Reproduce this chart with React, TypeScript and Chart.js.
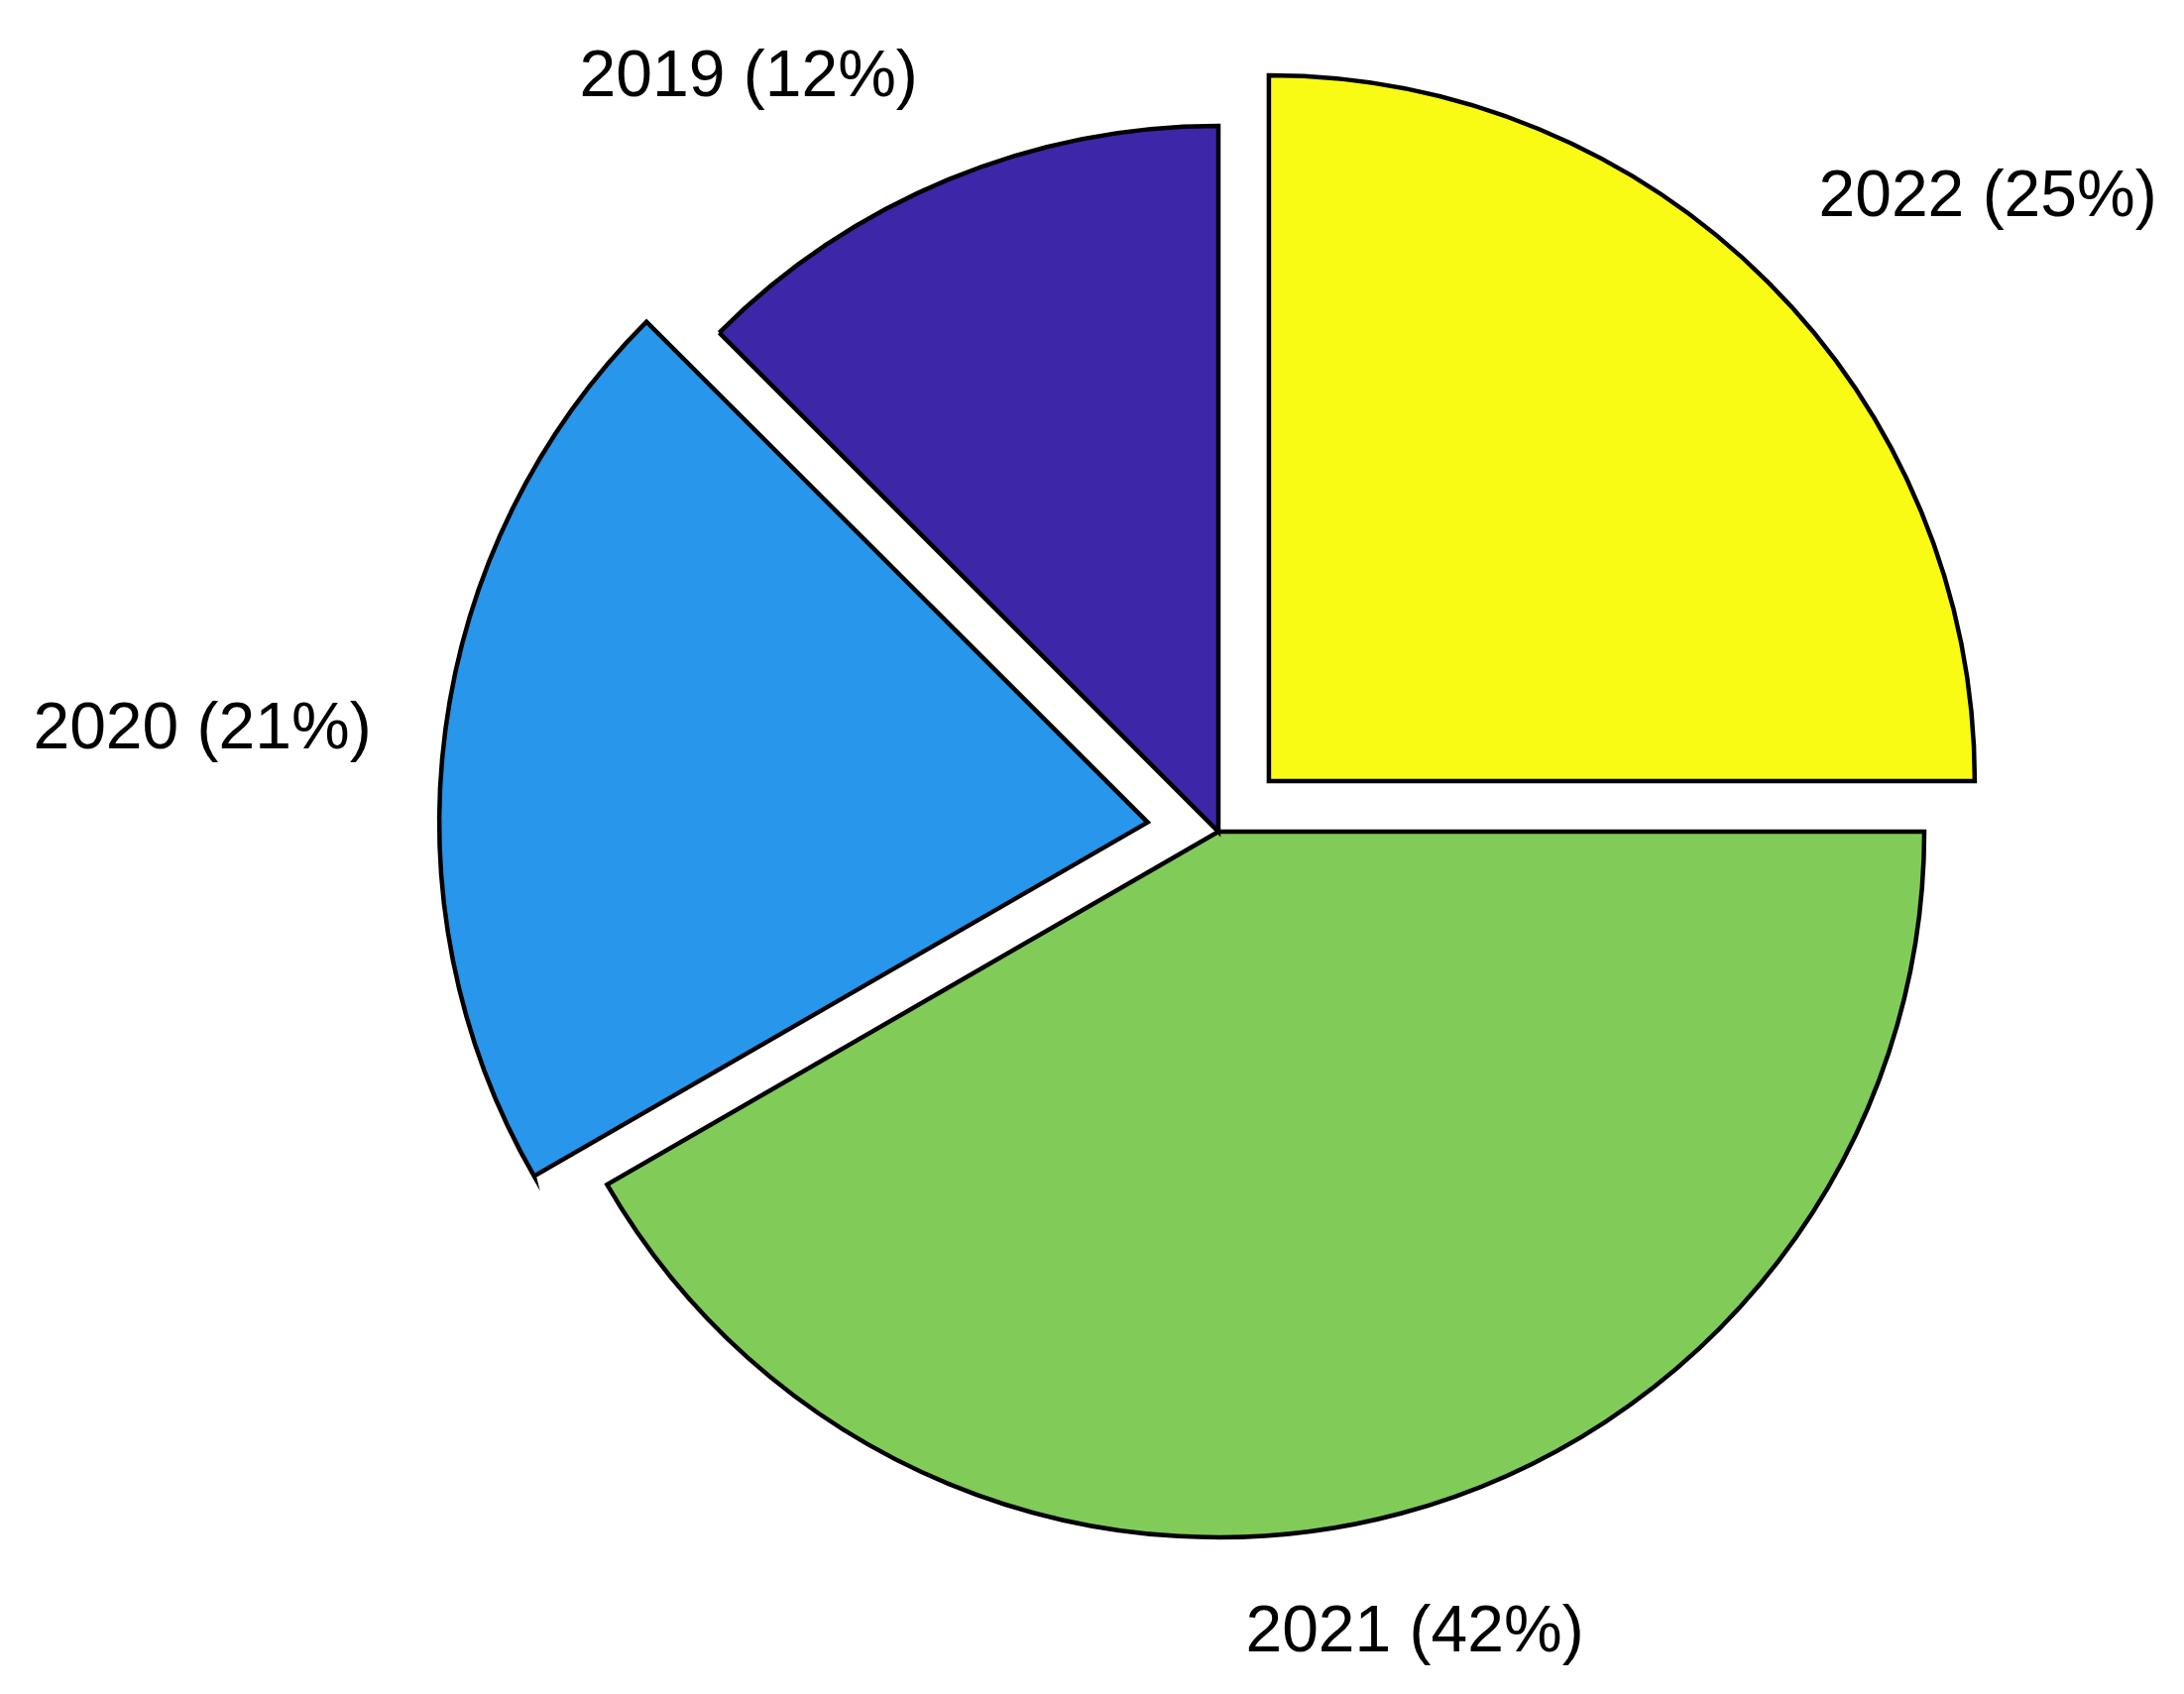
import React, { useEffect, useRef } from "react";
import { Chart, registerables } from "chart.js";

Chart.register(...registerables);

// ---- data ----
const categories = ["2019", "2020", "2021", "2022"];
// slice sizes: 45°, 75°, 150°, 90°
const values = [3, 5, 10, 6];
// percentages as printed in the labels
const percentLabels = ["12%", "21%", "42%", "25%"];
const exploded = [false, true, false, true];

// ---- styles ----
const sliceColors = ["#3E26A8", "#2796EB", "#81CC59", "#F9FB15"];
// label alignment (horizontal align, nudges in em units)
const labelAlign = ["right", "right", "center", "left"];
const labelDxEm = [0.36, -0.11, -0.35, 0.02];
const labelDyEm = [0.72, 0.42, 0.02, -0.26];

const W = 2203;
const H = 1709;
const RADIUS = 712;
const EXPLODE_PX = 72;
const FONT_PX = 66;

// Chart.js draws clockwise from top; the reference goes counter-clockwise,
// so feed the slices in reverse order.
const order = categories.map((_, i) => categories.length - 1 - i);

const pieLabels = {
  id: "pieLabels",
  afterDatasetsDraw(chart: any) {
    const ctx = chart.ctx;
    const meta = chart.getDatasetMeta(0);
    ctx.save();
    ctx.fillStyle = "#000000";
    ctx.font = `${FONT_PX}px "Liberation Sans", Arial, sans-serif`;
    ctx.textBaseline = "alphabetic";
    meta.data.forEach((arc: any, j: number) => {
      const i = order[j];
      const p = arc.getProps(["x", "y", "startAngle", "endAngle", "outerRadius"], true);
      const mid = (p.startAngle + p.endAngle) / 2;
      const r = p.outerRadius * 1.2;
      const ax = p.x + Math.cos(mid) * r + labelDxEm[i] * FONT_PX;
      const ay = p.y + Math.sin(mid) * r + labelDyEm[i] * FONT_PX;
      ctx.textAlign = labelAlign[i];
      ctx.fillText(`${categories[i]} (${percentLabels[i]})`, ax, ay);
    });
    ctx.restore();
  },
};

export default function App() {
  const ref = useRef<HTMLCanvasElement | null>(null);

  useEffect(() => {
    if (!ref.current) return;
    const chart = new Chart(ref.current, {
      type: "pie",
      data: {
        labels: order.map((i) => categories[i]),
        datasets: [
          {
            data: order.map((i) => values[i]),
            backgroundColor: order.map((i) => sliceColors[i]),
            borderColor: "#000000",
            borderWidth: 4.5,
            borderJoinStyle: "miter",
            // Chart.js translates an arc by offset / 4
            offset: order.map((i) => (exploded[i] ? EXPLODE_PX * 4 : 0)),
            hoverOffset: 0,
          } as any,
        ],
      },
      options: {
        responsive: false,
        animation: false,
        events: [],
        radius: RADIUS,
        rotation: 0,
        layout: { padding: { left: 255, right: 0, top: 0, bottom: 31 } },
        plugins: {
          legend: { display: false },
          tooltip: { enabled: false },
        },
      } as any,
      plugins: [pieLabels],
    });
    return () => chart.destroy();
  }, []);

  return (
    <div style={{ position: "absolute", left: 0, top: 0, width: W, height: H, background: "#ffffff" }}>
      <canvas ref={ref} width={W} height={H} style={{ width: W, height: H, display: "block" }} />
    </div>
  );
}
